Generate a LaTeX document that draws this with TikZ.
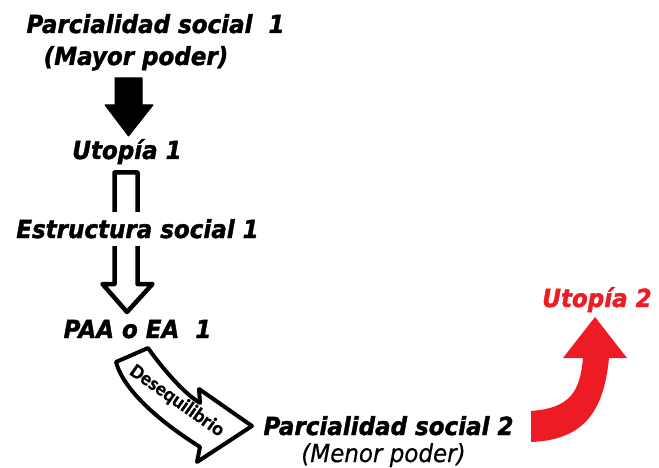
\documentclass[tikz,border=0pt]{standalone}
\usepackage{fontspec}
\setmainfont{DejaVu Sans}[BoldItalicFeatures={FakeBold=1.6}, ItalicFeatures={FakeBold=0.6}]
\newfontfamily\calib{Carlito}[BoldFeatures={FakeBold=0.6}]
\definecolor{arrred}{HTML}{ED1C24}
\begin{document}
\begin{tikzpicture}[x=1pt,y=-1pt,
  lbl/.style={anchor=base, inner sep=0pt, yscale=1.08, font=\fontsize{23}{27}\selectfont\bfseries\itshape},
  lblr/.style={anchor=base, inner sep=0pt, yscale=1.08, font=\fontsize{23}{27}\selectfont\itshape},
  hollow/.style={draw=black, fill=white, line width=4.5pt, line join=round},
  curvy/.style={draw=black, fill=white, line width=4pt, line join=round},
  solid/.style={fill=black, draw=black, line width=1pt, line join=round},
  redarrow/.style={fill=arrred, draw=none}]
\useasboundingbox (0,0) rectangle (659,468);

% texts
\node[lbl] (ps1) at (155.5,33) {Parcialidad social\ \ 1};
\node[lbl] (mp) at (136,65) {(Mayor poder)};
\node[lbl] (u1) at (127,159) {Utopía 1};
\node[lbl] (paa) at (137.5,338) {PAA o EA\ \ 1};
\node[lbl] (ps2) at (388.5,435) {Parcialidad social 2};
\node[lblr] (menor) at (383.5,462) {(Menor poder)};
\node[lbl, text=arrred] (u2) at (597,307) {Utopía 2};

% black arrow (Mayor poder -> Utopia 1)
\coordinate (b1) at (115,78);
\coordinate (b2) at (142,78);
\draw[solid] (b1) -- (b2) -- (142,105) -- (153,105) -- (128.5,136) -- (105,105) -- (115,105) -- cycle;

% hollow arrow (Utopia 1 -> PAA)
\draw[hollow] (114.5,172.5) -- (137.5,172.5) -- (137.5,284) -- (152.5,284) -- (127,312) -- (102.5,284) -- (114.5,284) -- cycle;
\node[lbl, fill=white, inner xsep=2pt, inner ysep=7pt, text height=17pt, text depth=0pt] (es1) at (137.5,238) {Estructura social 1};

% curved hollow arrow (Desequilibrio)
\draw[curvy] (116,362) -- (148,348) .. controls (160,365) and (182,392) .. (200,403)
  -- (199,389) -- (252,426) -- (197,462) -- (200,447)
  .. controls (170,428) and (125,395) .. cycle;
\node[font=\calib\bfseries\fontsize{20}{22}\selectfont, rotate=-35, inner sep=0pt] (deseq) at (177,401) {Desequilibrio};

% red arrow (Parcialidad social 2 -> Utopia 2)
\fill[redarrow] (531,411) .. controls (570,408) and (580,392) .. (583,358)
  -- (563,358) -- (595,317) -- (627,358) -- (609,358)
  .. controls (604,410) and (585,440) .. (531,442) -- cycle;
\end{tikzpicture}
\end{document}
